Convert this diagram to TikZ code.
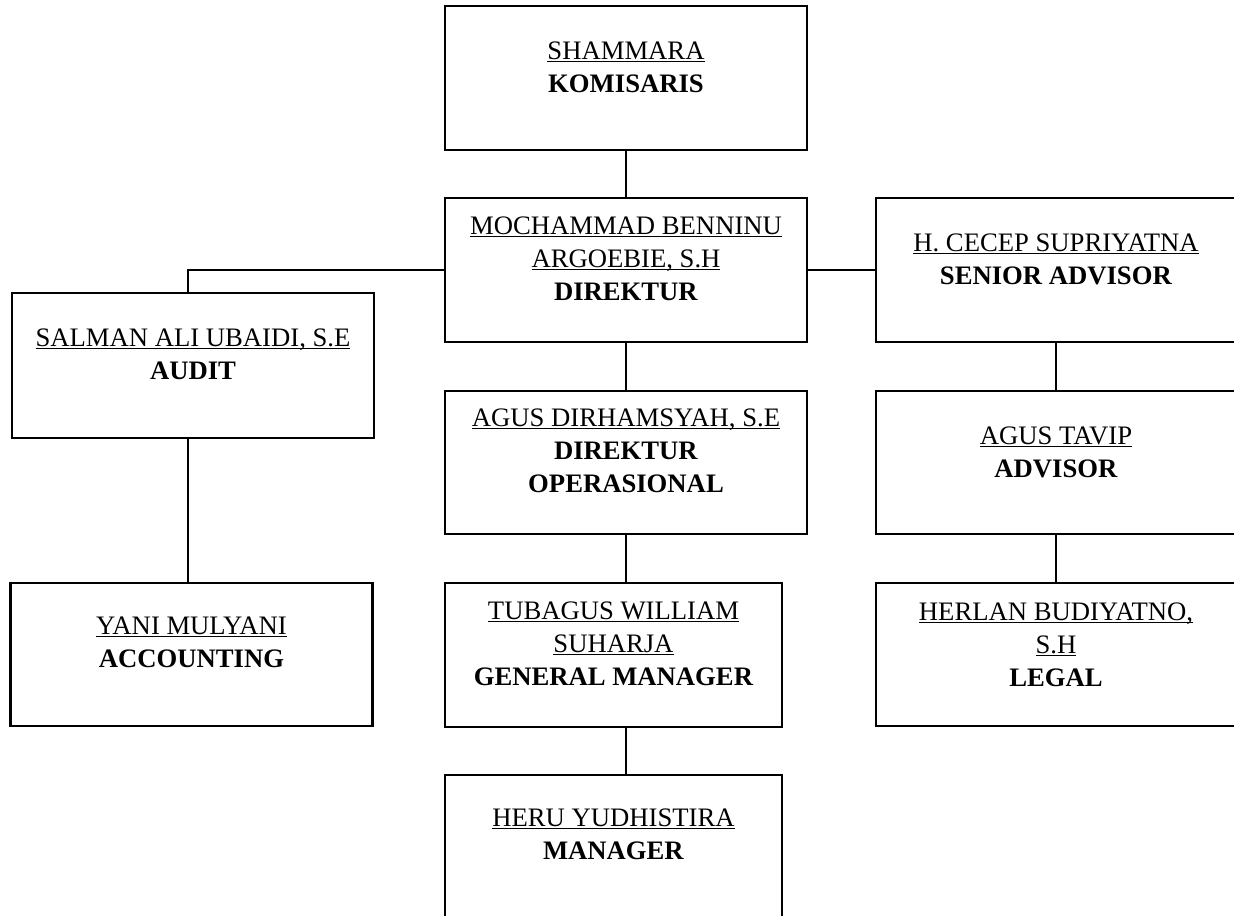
\documentclass[tikz,border=0pt]{standalone}
\usepackage{fontspec}
\setmainfont{Liberation Serif}
\newlength\ulw
\newcommand\nm[1]{\settowidth\ulw{#1}\rlap{\rule[-2.2pt]{\ulw}{1pt}}#1}
\newcommand\ttl[1]{\textbf{#1}}
\newcommand\st{\rule{0pt}{20pt}}
\begin{document}
\begin{tikzpicture}[x=0.75pt,y=-0.75pt,
  box/.style={draw, line width=1.7pt, minimum width=271.5pt, minimum height=108pt, inner sep=0pt},
  narrowbox/.style={box, minimum width=252.75pt},
  rightbox/.style={box, minimum width=270pt},
  txt/.style={font=\fontsize{20}{24.75}\selectfont, align=center, anchor=north, inner sep=0pt},
  conn/.style={line width=1.7pt}]
\useasboundingbox (0,0) rectangle (1234,915);
% boxes
\node[box] (kom) at (626,78) {};
\node[box] (dir) at (626,270) {};
\node[rightbox] (sen) at (1056,270) {};
\node[box, minimum height=108.75pt] (aud) at (193,365.5) {};
\node[box, minimum height=107.25pt] (dop) at (626,462.5) {};
\node[rightbox, minimum height=107.25pt] (adv) at (1056,462.5) {};
\node[box, minimum height=107.25pt] (acc) at (191.5,654.5) {};
\node[narrowbox] (gm) at (613.5,655) {};
\node[rightbox, minimum height=107.25pt] (leg) at (1056,654.5) {};
\node[narrowbox, minimum height=108.75pt] (man) at (613.5,847.5) {};
% texts
\node[txt, yshift=-20.5pt] (komt) at (kom.north) {\st\nm{SHAMMARA}\\\ttl{KOMISARIS}};
\node[txt, yshift=-7.75pt] (dirt) at (dir.north) {\st\nm{MOCHAMMAD BENNINU}\\\nm{ARGOEBIE, S.H}\\\ttl{DIREKTUR}};
\node[txt, yshift=-20.5pt] (sent) at (sen.north) {\st\nm{H. CECEP SUPRIYATNA}\\\ttl{SENIOR ADVISOR}};
\node[txt, yshift=-20.5pt] (audt) at (aud.north) {\st\nm{SALMAN ALI UBAIDI, S.E}\\\ttl{AUDIT}};
\node[txt, yshift=-7pt] (dopt) at (dop.north) {\st\nm{AGUS DIRHAMSYAH, S.E}\\\ttl{DIREKTUR}\\\ttl{OPERASIONAL}};
\node[txt, yshift=-20.5pt] (advt) at (adv.north) {\st\nm{AGUS TAVIP}\\\ttl{ADVISOR}};
\node[txt, yshift=-19pt] (acct) at (acc.north) {\st\nm{YANI MULYANI}\\\ttl{ACCOUNTING}};
\node[txt, yshift=-7.75pt] (gmt) at (gm.north) {\st\nm{TUBAGUS WILLIAM}\\\nm{SUHARJA}\\\ttl{GENERAL MANAGER}};
\node[txt, yshift=-8.5pt] (legt) at (leg.north) {\st\nm{HERLAN BUDIYATNO,}\\\nm{S.H}\\\ttl{LEGAL}};
\node[txt, yshift=-19pt] (mant) at (man.north) {\st\nm{HERU YUDHISTIRA}\\\ttl{MANAGER}};
% connectors
\draw[conn] (kom.south) -- (dir.north);
\draw[conn] (dir.west) -| ([xshift=-3.75pt]aud.north);
\draw[conn] (dir.east) -- (sen.west);
\draw[conn] (dir.south) -- (dop.north);
\draw[conn] (sen.south) -- (adv.north);
\draw[conn] ([xshift=-3.75pt]aud.south) -- ([xshift=-3.75pt]aud.south |- acc.north);
\draw[conn] (adv.south) -- (leg.north);
\draw[conn] (dop.south) -- (dop.south |- gm.north);
\draw[conn] (gm.south -| dop.south) -- (man.north -| dop.south);
\end{tikzpicture}
\end{document}
